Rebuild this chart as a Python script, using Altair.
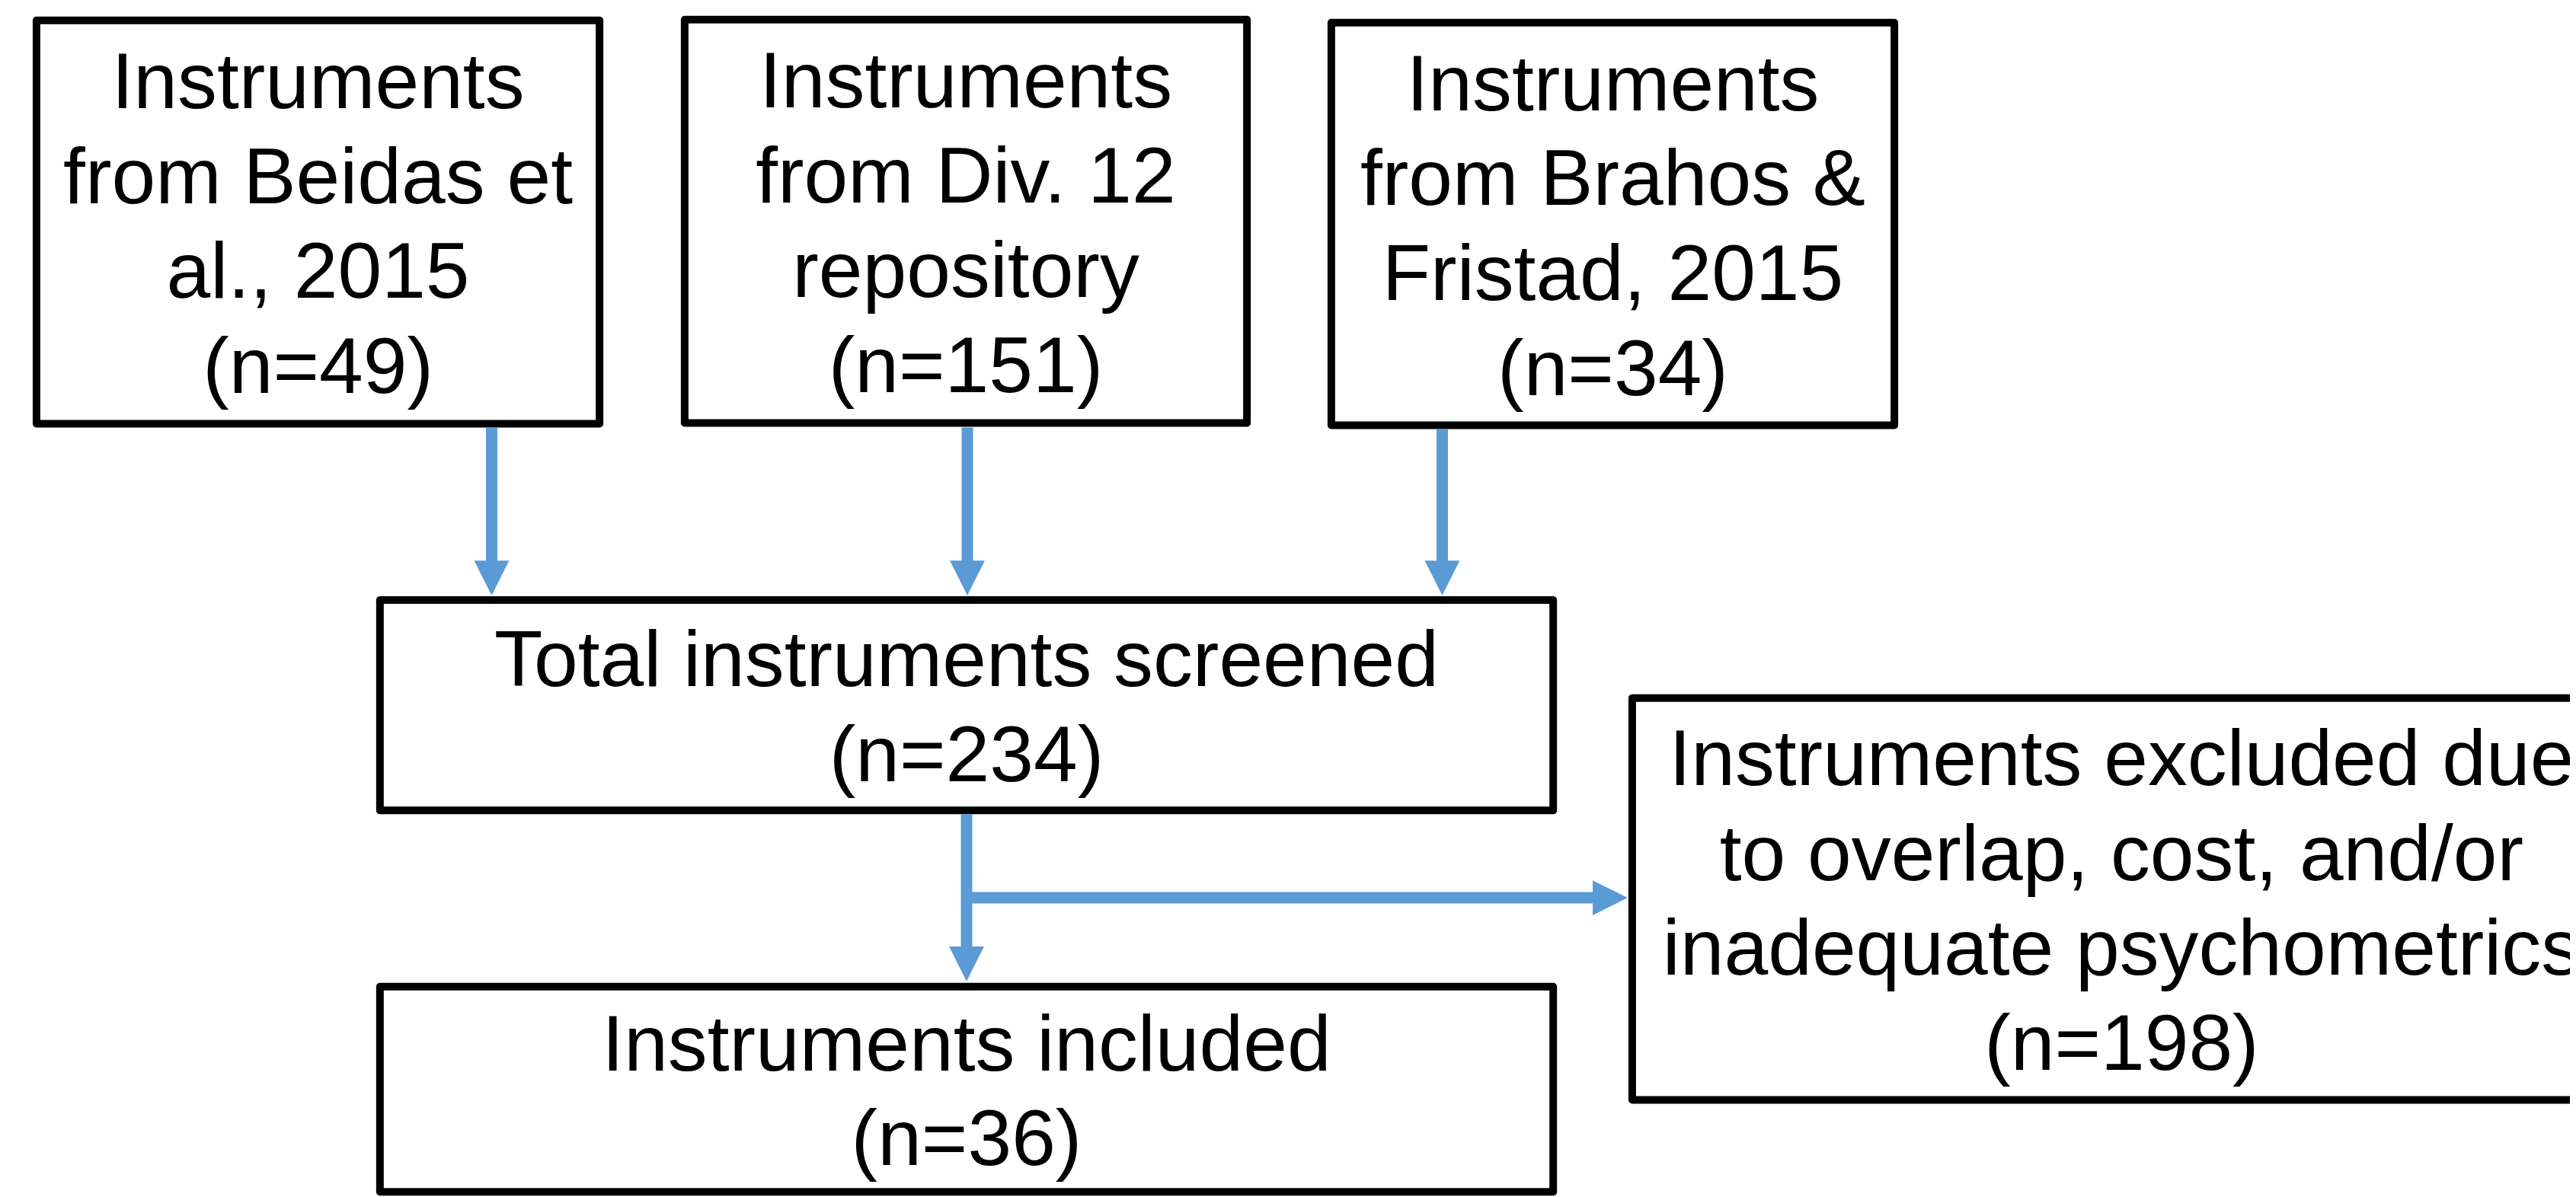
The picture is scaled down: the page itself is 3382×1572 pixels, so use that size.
import altair as alt
import pandas as pd

# ---------------- content ----------------
box_text = [
    ["Instruments", "from Beidas et", "al., 2015"],
    ["Instruments", "from Div. 12", "repository"],
    ["Instruments", "from Brahos &", "Fristad, 2015"],
    ["Total instruments screened"],
    ["Instruments included"],
    ["Instruments excluded due", "to overlap, cost, and/or", "inadequate psychometrics"],
]
box_n = [49, 151, 34, 234, 36, 198]

# ---------------- layout (canvas pixel units, border centre lines) ----------------
box_left = [48, 901, 1752, 500, 500, 2148]
box_right = [789, 1641, 2493, 2044, 2044, 3436]
box_top = [25, 24, 28, 788, 1297, 917]
box_bottom = [556, 555, 558, 1065, 1567, 1446]

# arrows: start point and tip
arrow_x = [647, 1273, 1898, 1272, 1272]
arrow_y = [561, 561, 563, 1070, 1180]
arrow_tip_x = [647, 1273, 1898, 1272, 2142]
arrow_tip_y = [782, 782, 782, 1290, 1180]
arrow_dir = ["down", "down", "down", "down", "right"]

HEAD = 46
W, H = 3382, 1572
M = 8
BLUE = "#5B9BD5"
FONT = "Liberation Sans, Arial, sans-serif"
FS = 104
LH = 125
CAP_HALF = 37.5

boxes = pd.DataFrame({
    "x": box_left, "x2": box_right, "y": box_top, "y2": box_bottom,
})

rows = []
for lines_, n, l, r, t, b in zip(box_text, box_n, box_left, box_right, box_top, box_bottom):
    all_lines = lines_ + [f"(n={n})"]
    k = len(all_lines)
    cx = (l + r) / 2
    cy = (t + b) / 2
    for i, s in enumerate(all_lines):
        rows.append({"cx": cx, "cy": cy + CAP_HALF + (i - (k - 1) / 2) * LH, "label": s})
labels = pd.DataFrame(rows)

shafts = []
heads = []
paths = {"down": "M-1,-1L1,-1L0,1Z", "right": "M-1,-1L1,0L-1,1Z"}
for x0, y0, tx, ty, d in zip(arrow_x, arrow_y, arrow_tip_x, arrow_tip_y, arrow_dir):
    if d == "down":
        hx, hy = tx, ty - HEAD / 2
    else:
        hx, hy = tx - HEAD / 2, ty
    shafts.append({"x": x0, "y": y0, "x2": hx, "y2": hy})
    heads.append({"x": hx, "y": hy, "shape": paths[d]})
shafts = pd.DataFrame(shafts)
heads = pd.DataFrame(heads)

xs = alt.Scale(domain=[M, W], nice=False, zero=False)
ys = alt.Scale(domain=[M, H], nice=False, zero=False, reverse=True)

rects = alt.Chart(boxes).mark_rect(
    fill="white", stroke="black", strokeWidth=10, strokeJoin="round"
).encode(
    x=alt.X("x:Q", scale=xs, axis=None),
    x2="x2:Q",
    y=alt.Y("y:Q", scale=ys, axis=None),
    y2="y2:Q",
)

lines = alt.Chart(shafts).mark_rule(
    color=BLUE, strokeWidth=15, strokeCap="butt"
).encode(
    x=alt.X("x:Q", scale=xs, axis=None),
    x2="x2:Q",
    y=alt.Y("y:Q", scale=ys, axis=None),
    y2="y2:Q",
)

arrowheads = alt.Chart(heads).mark_point(
    filled=True, fill=BLUE, color=BLUE, opacity=1, strokeWidth=0, size=HEAD * HEAD
).encode(
    x=alt.X("x:Q", scale=xs, axis=None),
    y=alt.Y("y:Q", scale=ys, axis=None),
    shape=alt.Shape("shape:N", scale=None, legend=None),
)

texts = alt.Chart(labels).mark_text(
    font=FONT, fontSize=FS, align="center", baseline="alphabetic", color="black",
).encode(
    x=alt.X("cx:Q", scale=xs, axis=None),
    y=alt.Y("cy:Q", scale=ys, axis=None),
    text="label:N",
)

chart = alt.layer(rects, lines, arrowheads, texts).properties(
    width=W - M, height=H - M,
    autosize=alt.AutoSizeParams(type="none"),
    padding=0,
    background="white",
).configure_view(stroke=None)

chart.save("out.html", embed_options={"renderer": "svg", "actions": False})
